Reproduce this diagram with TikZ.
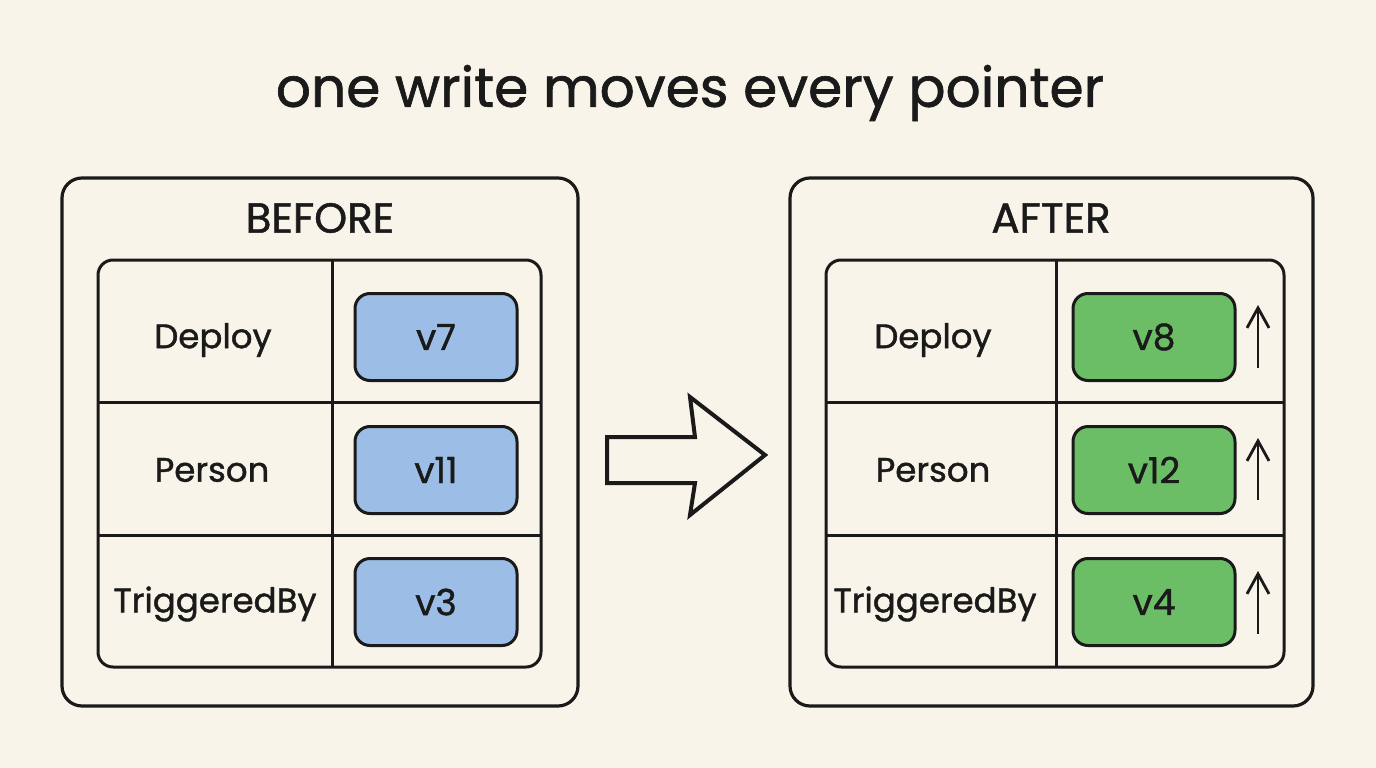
\documentclass[tikz,border=0pt]{standalone}
\usepackage{fontspec}
\setmainfont{Poppins}
\newfontface\handfont{Poppins}[FakeBold=1.2]
\usetikzlibrary{arrows.meta}
\definecolor{paper}{RGB}{248,244,233}
\definecolor{ink}{RGB}{26,26,26}
\definecolor{oldfill}{RGB}{156,189,229}
\definecolor{newfill}{RGB}{108,190,102}
\tikzset{
  frame/.style={draw=ink, line width=3.2pt, rounded corners=20pt},
  grid/.style={draw=ink, line width=3pt},
  heading/.style={text=ink, font=\handfont\fontsize{42}{48}\selectfont},
  rowlabel/.style={text=ink, font=\handfont\fontsize{34}{40}\selectfont},
  pill/.style={draw=ink, line width=3pt, rounded corners=15pt,
    minimum width=162pt, minimum height=87pt, inner sep=0pt,
    font=\handfont\fontsize{36}{42}\selectfont, text=ink},
  oldpill/.style={pill, fill=oldfill},
  newpill/.style={pill, fill=newfill},
  bump/.style={draw=ink, line width=2.8pt, -{Straight Barb[length=20pt,width=22pt,line width=2.8pt]}},
}
\begin{document}
\begin{tikzpicture}[x=1pt,y=-1pt]
\fill[paper] (0,0) rectangle (1376,768);
\useasboundingbox (0,0) rectangle (1376,768);

\node[text=ink, font=\handfont\fontsize{55}{62}\selectfont] (title) at (690,93) {one write moves every pointer};

% ---- left panel: before ----
\draw[frame] (62,178) rectangle (578,706);
\node[heading] (before) at (320,218) {BEFORE};
\draw[grid, rounded corners=15pt] (98,260) rectangle (541,667);
\draw[grid] (332,260) -- (332,667);
\draw[grid] (98,402) -- (541,402);
\draw[grid] (98,535) -- (541,535);
\node[rowlabel] (bdeploy) at (213,340) {Deploy};
\node[rowlabel] (bperson) at (212,470) {Person};
\node[rowlabel] (btrig) at (215,604) {TriggeredBy};
\node[oldpill] (bv1) at (436,337) {v7};
\node[oldpill] (bv2) at (436,470) {v11};
\node[oldpill] (bv3) at (436,602) {v3};

% ---- transition arrow ----
\draw[draw=ink, line width=4pt, line join=miter]
  (607,437) -- (695,437) -- (690,397) -- (765,455) -- (690,515) -- (695,483) -- (607,483) -- cycle;

% ---- right panel: after ----
\draw[frame] (790,178) rectangle (1313,706);
\node[heading] (after) at (1051,218) {AFTER};
\draw[grid, rounded corners=15pt] (826,260) rectangle (1284,667);
\draw[grid] (1056,260) -- (1056,667);
\draw[grid] (826,402) -- (1284,402);
\draw[grid] (826,535) -- (1284,535);
\node[rowlabel] (adeploy) at (933,340) {Deploy};
\node[rowlabel] (aperson) at (933,470) {Person};
\node[rowlabel] (atrig) at (935,604) {TriggeredBy};
\node[newpill] (av1) at (1154,337) {v8};
\node[newpill] (av2) at (1154,470) {v12};
\node[newpill] (av3) at (1154,602) {v4};

% ---- version bumps ----
\coordinate (u1a) at (1258,368); \coordinate (u1b) at (1258,305);
\coordinate (u2a) at (1258,500); \coordinate (u2b) at (1258,438);
\coordinate (u3a) at (1258,634); \coordinate (u3b) at (1258,571);
\draw[bump] (u1a) -- (u1b);
\draw[bump] (u2a) -- (u2b);
\draw[bump] (u3a) -- (u3b);
\end{tikzpicture}
\end{document}
